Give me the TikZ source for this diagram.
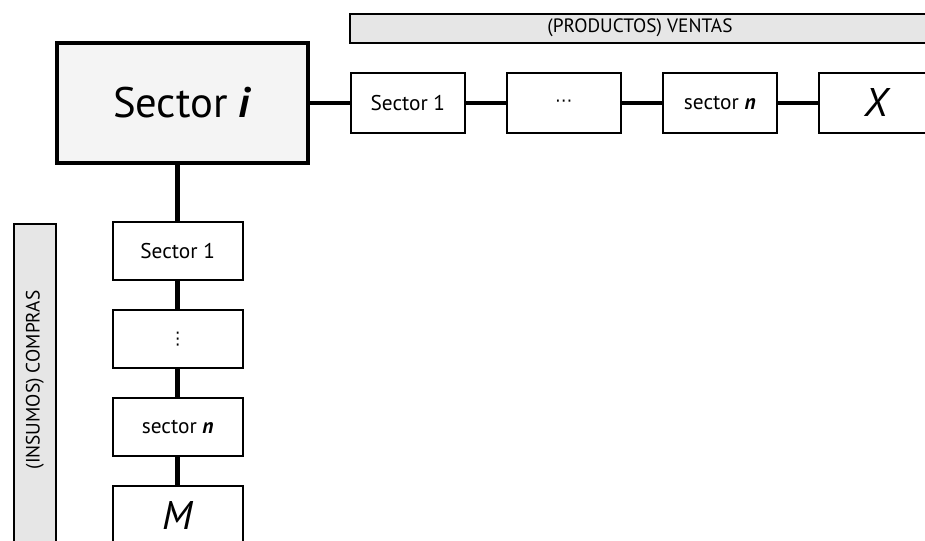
\documentclass[tikz,border=0pt]{standalone}
\usepackage{fontspec}
\setmainfont{PT Sans}
\newfontfamily\dotsfont{DejaVu Sans}
\usepackage{tikz}
\usetikzlibrary{positioning}
\definecolor{barfill}{HTML}{E6E6E6}
\definecolor{mainfill}{HTML}{F4F4F4}

\begin{document}
\begin{tikzpicture}[
  x=0.75pt, y=0.75pt,
  node distance=21pt and 30pt,
  mainbox/.style={draw, line width=3pt, fill=mainfill, minimum width=188pt,
    minimum height=90pt, inner sep=0pt, font=\fontsize{32}{36}\selectfont},
  hbox/.style={draw, line width=1.5pt, fill=white, minimum width=85.5pt,
    minimum height=45pt, inner sep=0pt, font=\fontsize{16}{19}\selectfont},
  vbox/.style={hbox, minimum width=97.5pt, minimum height=43.5pt},
  bigtxt/.style={font=\fontsize{30}{34}\selectfont\itshape},
  dotstxt/.style={font=\fontsize{13}{15}\selectfont\dotsfont},
  bar/.style={draw, line width=1.5pt, fill=barfill, inner sep=0pt,
    font=\fontsize{14.5}{17}\selectfont},
  hconn/.style={line width=3pt},
  vconn/.style={line width=4pt}
]
\clip (0,0) rectangle (925,541);
% labels
\node[bar, minimum width=435pt, minimum height=21.75pt] (ventas) at (640,512.8) {(PRODUCTOS) VENTAS};
\node[bar, anchor=north, minimum width=31.7pt, minimum height=255pt] (comprasbar) at (34.8,318.3) {};
\node[rotate=90, font=\fontsize{14.5}{17}\selectfont] (compras) at (34.8,161) {(INSUMOS) COMPRAS};
% sector i and its sales
\node[mainbox] (sectori) at (182.5,438) {Sector \textbf{\textit{i}}};
\node[hbox, right=of sectori] (hone) {Sector 1};
\node[hbox, dotstxt, right=of hone] (hdots) {⋯};
\node[hbox, right=of hdots] (hn) {sector \textbf{\textit{n}}};
\node[hbox, bigtxt, right=of hn] (hx) {X};
% purchases
\node[vbox] (vone) at (177.7,289.8) {Sector 1};
\node[vbox, dotstxt, below=of vone] (vdots) {⋮};
\node[vbox, below=of vdots] (vn) {sector \textbf{\textit{n}}};
\node[vbox, bigtxt, below=of vn] (vm) {M};
\draw[hconn] (sectori) -- (hone);
\draw[hconn] (hone) -- (hdots);
\draw[hconn] (hdots) -- (hn);
\draw[hconn] (hn) -- (hx);
\draw[vconn] (vone.north) -- (vone.north |- sectori.south);
\draw[vconn] (vone) -- (vdots);
\draw[vconn] (vdots) -- (vn);
\draw[vconn] (vn) -- (vm);
\end{tikzpicture}
\end{document}
